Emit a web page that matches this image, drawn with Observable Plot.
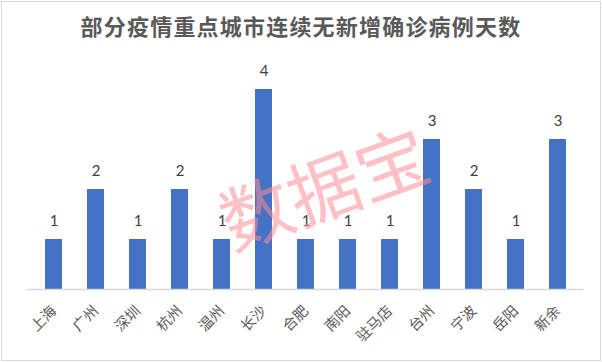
<!DOCTYPE html>
<html>
<head>
<meta charset="utf-8">
<script src="https://cdn.jsdelivr.net/npm/d3@7"></script>
<script src="https://cdn.jsdelivr.net/npm/@observablehq/plot@0.6"></script>
<style>
  html, body { margin: 0; padding: 0; background: #fff; }
  #wrap { position: relative; width: 602px; height: 362px; overflow: hidden; background: #fff; }
  #frame { position: absolute; left: 1px; top: 1px; width: 598px; height: 358px; border: 1px solid #d9d9d9; }
  #title { position: absolute; left: 0; top: 0; width: 602px; height: 50px; line-height: 51px; text-align: center;
           font-family: "Noto Sans CJK SC", sans-serif; font-weight: bold; font-size: 22px; letter-spacing: 1.2px; color: #595959; }
  #chart { position: absolute; left: 0; top: 50px; }
</style>
</head>
<body>
<div id="wrap">
  <div id="frame"></div>
  <div id="title">部分疫情重点城市连续无新增确诊病例天数</div>
  <div id="chart"></div>
</div>
<script>
const cities = ["上海", "广州", "深圳", "杭州", "温州", "长沙", "合肥", "南阳", "驻马店", "台州", "宁波", "岳阳", "新余"];
const days = [1, 2, 1, 2, 1, 4, 1, 1, 1, 3, 2, 1, 3];
const watermark = ["数据宝"];

const data = cities.map((c, i) => ({city: c, days: days[i]}));

const plot = Plot.plot({
  width: 602,
  height: 312,
  marginTop: 39,
  marginBottom: 73,
  marginLeft: 27,
  marginRight: 19,
  style: {fontFamily: "'Noto Sans CJK SC', sans-serif", background: "transparent"},
  x: {domain: cities, paddingInner: 0.6, paddingOuter: 0.3, label: null},
  y: {domain: [0, 4], axis: null},
  marks: [
    Plot.barY(data, {x: "city", y: "days", fill: "#4472c4"}),
    Plot.ruleY([0], {stroke: "#d9d9d9", strokeWidth: 1.3}),
    Plot.text(data, {x: "city", y: "days", text: d => String(d.days), dy: -14, lineAnchor: "bottom",
      fontSize: 15, fill: "#404040", fontFamily: "Lato, 'Open Sans', sans-serif"}),
    Plot.axisX({tickRotate: -45, tickSize: 0, tickPadding: 19, fontSize: 14.5, color: "#595959", label: null}),
    Plot.text(watermark, {text: d => d, frameAnchor: "middle", dx: 20, dy: 3, rotate: -20,
      fontSize: 72, fill: "#ff8c96", fillOpacity: 0.55, fontFamily: "'Noto Sans CJK SC', sans-serif"})
  ]
});
document.getElementById("chart").appendChild(plot);
</script>
</body>
</html>
